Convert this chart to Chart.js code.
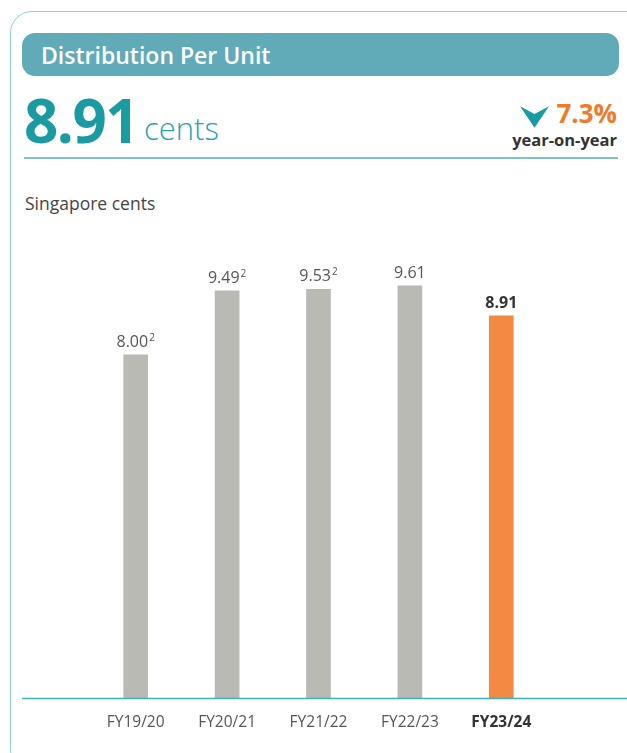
<!DOCTYPE html>
<html>
<head>
<meta charset="utf-8">
<script src="https://cdn.jsdelivr.net/npm/chart.js@4"></script>
<style>
  html, body { margin: 0; padding: 0; background: #fff; }
  body { width: 627px; height: 753px; position: relative; overflow: hidden; font-family: "Open Sans", Lato, sans-serif; }
  .card { position: absolute; left: 10px; top: 11px; width: 640px; height: 760px; border: 1.5px solid #8fcfd6; border-radius: 22px; box-sizing: border-box; }
  .pill { position: absolute; left: 22px; top: 33px; width: 597px; height: 43px; background: #60abb7; border-radius: 13px; }
  .pill span { position: absolute; left: 19px; top: 6px; color: #fff; font-size: 23px; font-weight: 600; }
  .big { position: absolute; left: 24px; top: 86px; color: #1a9aa1; font-size: 60px; font-weight: 700; line-height: 68px; letter-spacing: -1.5px; }
  .cents { position: absolute; left: 144px; top: 110px; color: #2aa3aa; font-size: 31px; font-weight: 300; line-height: 37px; }
  .rule { position: absolute; left: 24px; top: 157px; width: 594px; height: 1.5px; background: #7fc3c9; }
  .pct { position: absolute; right: 10px; top: 98px; color: #f07a2a; font-size: 26px; font-weight: 700; line-height: 30px; }
  .chev { position: absolute; left: 520px; top: 106px; }
  .yoy { position: absolute; right: 10px; top: 128px; color: #333; font-size: 16.5px; font-weight: 700; }
  .unit { position: absolute; left: 25px; top: 191px; color: #444; font-size: 17.5px; }
  .wrap { position: absolute; left: 0; top: 220px; width: 627px; height: 533px; }
</style>
</head>
<body>
<div class="card"></div>
<div class="pill"><span>Distribution Per Unit</span></div>
<div class="big">8.91</div>
<div class="cents">cents</div>
<svg class="chev" width="29" height="22" viewBox="0 0 30 22"><path d="M0 0 L15 8 L30 0 L15 22 Z" fill="#1a9aa1"/></svg>
<div class="pct">7.3%</div>
<div class="yoy">year-on-year</div>
<div class="rule"></div>
<div class="unit">Singapore cents</div>
<div class="wrap"><canvas id="dpu"></canvas></div>
<script>
const years = ['FY19/20', 'FY20/21', 'FY21/22', 'FY22/23', 'FY23/24'];
const dpu = [8.00, 9.49, 9.53, 9.61, 8.91];
const notes = ['2', '2', '2', '', ''];
const barColors = ['#b9bab4', '#b9bab4', '#b9bab4', '#b9bab4', '#f28a43'];

const FONT = '"Open Sans", Lato, sans-serif';

// value labels above bars, with superscript note marks
const valueLabels = {
  id: 'valueLabels',
  afterDatasetsDraw(chart) {
    const ctx = chart.ctx;
    const meta = chart.getDatasetMeta(0);
    meta.data.forEach((bar, i) => {
      const last = i === dpu.length - 1;
      const main = dpu[i].toFixed(2);
      const mainFont = (last ? 'bold ' : '') + '16px ' + FONT;
      ctx.save();
      ctx.font = mainFont;
      const w1 = ctx.measureText(main).width;
      ctx.font = '10px ' + FONT;
      const w2 = notes[i] ? ctx.measureText(notes[i]).width + 1 : 0;
      const x0 = bar.x - (w1 + w2) / 2;
      const y = bar.y - 8;
      ctx.fillStyle = last ? '#333' : '#555';
      ctx.textBaseline = 'alphabetic';
      ctx.textAlign = 'left';
      ctx.font = mainFont;
      ctx.fillText(main, x0, y);
      if (notes[i]) {
        ctx.font = '10px ' + FONT;
        ctx.fillText(notes[i], x0 + w1 + 1, y - 6);
      }
      ctx.restore();
    });
  }
};

// baseline across the card
const baseLine = {
  id: 'baseLine',
  afterDraw(chart) {
    const ctx = chart.ctx;
    const y = chart.scales.y.getPixelForValue(0);
    ctx.save();
    ctx.strokeStyle = '#3fb0bb';
    ctx.lineWidth = 1.5;
    ctx.beginPath();
    ctx.moveTo(22, y);
    ctx.lineTo(chart.width, y);
    ctx.stroke();
    ctx.restore();
  }
};

new Chart(document.getElementById('dpu'), {
  type: 'bar',
  data: {
    labels: years,
    datasets: [{
      data: dpu,
      backgroundColor: barColors,
      barThickness: 24
    }]
  },
  options: {
    responsive: true,
    maintainAspectRatio: false,
    animation: false,
    layout: { padding: { left: 90, right: 80, top: 19, bottom: 6 } },
    plugins: { legend: { display: false }, tooltip: { enabled: false } },
    scales: {
      x: {
        grid: { display: false, drawTicks: false },
        border: { display: false },
        ticks: {
          padding: 15,
          color: (c) => c.index === years.length - 1 ? '#333' : '#555',
          font: (c) => ({ family: FONT, size: 15.5, weight: c.index === years.length - 1 ? 'bold' : 'normal' })
        }
      },
      y: {
        display: false,
        min: 0,
        max: 10.7
      }
    }
  },
  plugins: [valueLabels, baseLine]
});
</script>
</body>
</html>
